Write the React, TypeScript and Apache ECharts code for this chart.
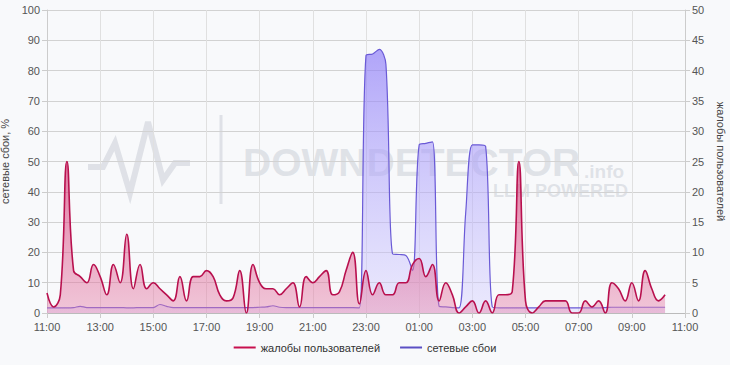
import React, { useEffect, useRef } from 'react';
import * as echarts from 'echarts';

// 15-minute categories from 11:00 to 11:00 next day
const timeLabels: string[] = [];
for (let i = 0; i <= 96; i++) {
  const m = 11 * 60 + i * 15;
  const h = Math.floor(m / 60) % 24;
  const mm = m % 60;
  timeLabels.push(`${String(h).padStart(2, '0')}:${String(mm).padStart(2, '0')}`);
}

const complaintsName = 'жалобы пользователей';
const outagesName = 'сетевые сбои';

// user complaints (right axis), 11:00 .. 10:15
const complaints = [
  3.3, 1, 3, 25, 7, 6, 5, 8, 6, 3, 8, 5, 13, 4, 8, 4,
  5, 4, 3, 2, 6, 2, 6, 6, 7, 6, 3, 2, 2.5, 7, 0, 8,
  5, 4, 4, 3, 4, 5, 1, 6, 5, 6, 7, 3, 3.5, 7, 10, 1.5,
  7, 3, 5, 3, 3, 5, 5, 8, 9, 6, 8, 2, 5, 3, 0, 1,
  2, 0, 2, 0, 3, 3, 3.5, 25, 2, 0, 1, 2, 2, 2, 2, 0,
  0, 2, 1, 2, 0, 5, 4, 2, 5, 2, 7, 4, 2, 3,
];

// network outages, % (left axis)
const outages = [
  1.7, 1.7, 1.7, 1.7, 1.8, 2.2, 1.8, 1.8, 1.8, 1.8, 1.8, 1.8, 1.7, 1.7, 1.8, 1.8,
  1.8, 2.8, 2.2, 1.8, 1.8, 1.8, 1.8, 1.8, 1.8, 1.8, 1.8, 1.8, 1.8, 1.8, 1.8, 1.8,
  1.9, 2.0, 2.4, 1.9, 1.8, 1.8, 1.8, 1.8, 1.8, 1.8, 1.8, 1.8, 1.8, 1.8, 1.8, 1.7,
  85, 85.5, 87, 82, 19.5, 19.3, 19, 14, 55.5, 56, 56.5, 2.2, 2, 1.8, 1.7, 33,
  55.5, 55.5, 55, 2, 1.7, 1.7, 1.7, 1.7, 1.7, 1.7, 1.7, 1.7, 1.7, 1.7, 1.7, 1.7,
  1.7, 1.7, 1.7, 1.7, 1.8, 1.9, 1.9, 1.9, 1.9, 1.9, 1.9, 1.9, 1.9, 1.9,
];

const leftTicks = { min: 0, max: 100, interval: 10 };
const rightTicks = { min: 0, max: 50, interval: 5 };

const FONT = '"Liberation Sans", Arial, sans-serif';
const WM = 'rgba(188,194,202,0.42)';

export default function App() {
  const ref = useRef<HTMLDivElement>(null);
  useEffect(() => {
    document.body.style.margin = '0';
    const chart = echarts.init(ref.current!, null, { renderer: 'svg' });
    chart.setOption({
      animation: false,
      backgroundColor: '#f8f9fb',
      textStyle: { fontFamily: FONT },
      grid: { left: 47, right: 45, top: 10, bottom: 52, outerBoundsMode: 'none', containLabel: false },
      legend: {
        data: [complaintsName, outagesName],
        bottom: 7,
        left: 'center',
        icon: 'rect',
        itemWidth: 22,
        itemHeight: 2,
        itemGap: 20,
        textStyle: { fontSize: 11, color: '#333', fontFamily: FONT },
      },
      graphic: [
        {
          type: 'polyline',
          z: 0,
          shape: { points: [[88, 167], [103, 167], [115, 143], [130, 193], [148, 122], [163, 180], [175, 163], [190, 163]] },
          style: { stroke: WM, lineWidth: 6, fill: null },
        },
        { type: 'line', z: 0, shape: { x1: 221, y1: 115, x2: 221, y2: 204 }, style: { stroke: WM, lineWidth: 3 } },
        { type: 'text', z: 0, x: 243, y: 162, style: { text: 'DOWNDETECTOR', font: `bold 39px ${FONT}`, fill: WM, verticalAlign: 'middle' } },
        { type: 'text', z: 0, x: 584, y: 171, style: { text: '.info', font: `bold 19px ${FONT}`, fill: WM, verticalAlign: 'middle' } },
        { type: 'text', z: 0, x: 493, y: 191, style: { text: 'LLM POWERED', font: `bold 18px ${FONT}`, fill: WM, verticalAlign: 'middle' } },
      ],
      xAxis: {
        type: 'category',
        data: timeLabels,
        boundaryGap: false,
        axisLine: { lineStyle: { color: '#bbb' } },
        axisTick: { interval: 7, length: 5, lineStyle: { color: '#ccc' } },
        axisLabel: { interval: 7, color: '#555', fontSize: 11, margin: 8 },
        splitLine: { show: true, interval: 7, lineStyle: { color: '#e0e0e0' } },
      },
      yAxis: [
        {
          type: 'value',
          ...leftTicks,
          name: 'сетевые сбои, %',
          nameLocation: 'middle',
          nameRotate: 90,
          nameGap: 30,
          nameTextStyle: { color: '#444', fontSize: 11 },
          axisLine: { show: true, lineStyle: { color: '#ccc' } },
          axisTick: { show: true, length: 5, lineStyle: { color: '#ccc' } },
          axisLabel: { color: '#555', fontSize: 11, margin: 7 },
          splitLine: { lineStyle: { color: '#d2d2d2' } },
        },
        {
          type: 'value',
          ...rightTicks,
          name: complaintsName,
          nameLocation: 'middle',
          nameRotate: -90,
          nameGap: 28,
          nameTextStyle: { color: '#444', fontSize: 11 },
          axisLine: { show: true, lineStyle: { color: '#ccc' } },
          axisTick: { show: true, length: 5, lineStyle: { color: '#ccc' } },
          axisLabel: { color: '#555', fontSize: 11, margin: 7 },
          splitLine: { show: false },
        },
      ],
      series: [
        {
          name: outagesName,
          type: 'line',
          yAxisIndex: 0,
          data: outages,
          smooth: 0.35,
          showSymbol: false,
          z: 2,
          lineStyle: { color: '#6a5ad6', width: 1.2 },
          itemStyle: { color: '#5b4fc4' },
          areaStyle: {
            color: new echarts.graphic.LinearGradient(0, 0, 0, 1, [
              { offset: 0, color: 'rgba(140,122,248,0.95)' },
              { offset: 1, color: 'rgba(215,210,255,0.6)' },
            ]),
          },
        },
        {
          name: complaintsName,
          type: 'line',
          yAxisIndex: 1,
          data: complaints,
          smooth: 0.45,
          showSymbol: false,
          z: 3,
          lineStyle: { color: '#b8104e', width: 1.6 },
          itemStyle: { color: '#c8104e' },
          areaStyle: {
            color: new echarts.graphic.LinearGradient(0, 0, 0, 1, [
              { offset: 0, color: 'rgba(210,40,105,0.88)' },
              { offset: 1, color: 'rgba(230,130,170,0.62)' },
            ]),
          },
        },
      ],
    });
    return () => chart.dispose();
  }, []);
  return <div ref={ref} style={{ width: 730, height: 365 }} />;
}
